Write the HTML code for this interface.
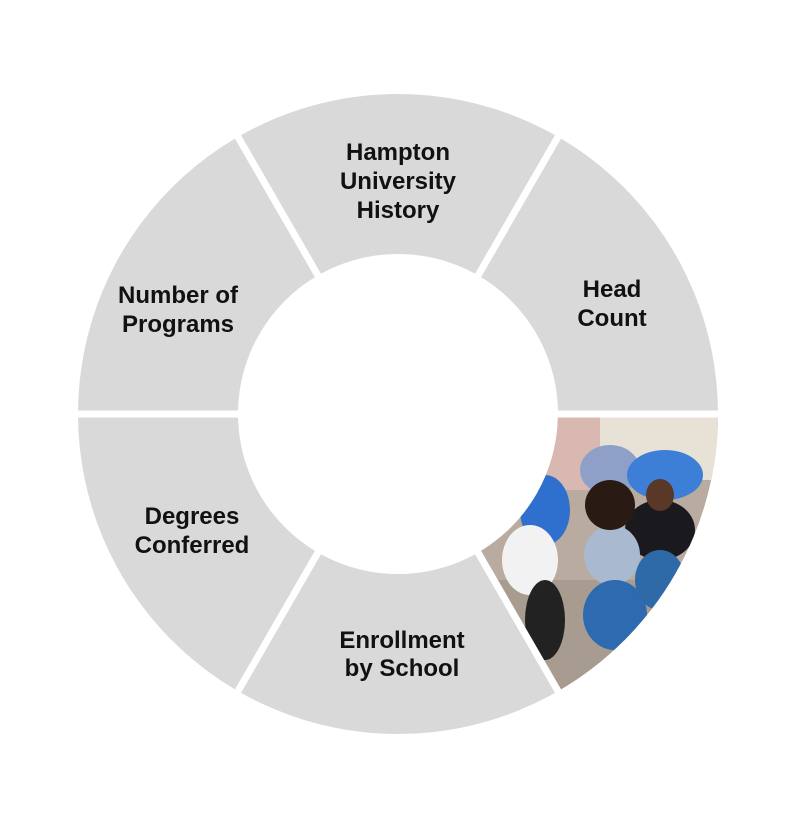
<!DOCTYPE html>
<html><head><meta charset="utf-8"><style>
html,body{margin:0;padding:0;background:#fff;width:796px;height:829px;overflow:hidden}
svg{display:block}
text{font-family:"Liberation Sans",Arial,sans-serif;font-weight:bold;font-size:24px;fill:#111;text-anchor:middle}
</style></head><body>
<svg width="796" height="829" viewBox="0 0 796 829">
<defs>
<clipPath id="ph"><path d="M718,414 A320,320 0 0 1 558,691.1 L478,552.6 A160,160 0 0 0 558,414 Z"/></clipPath>
</defs>
<path d="M78,414 A320,320 0 1 1 718,414 A320,320 0 1 1 78,414 Z M238,414 A160,160 0 1 0 558,414 A160,160 0 1 0 238,414 Z" fill="#d9d9d9" fill-rule="evenodd"/>
<g clip-path="url(#ph)">
<rect x="470" y="410" width="260" height="290" fill="#b9aba0"/>
<rect x="540" y="410" width="70" height="80" fill="#d8b8b0"/>
<rect x="600" y="410" width="120" height="70" fill="#e8e2d6"/>
<rect x="470" y="580" width="260" height="120" fill="#a89c90"/>
<ellipse cx="610" cy="470" rx="30" ry="25" fill="#8fa0c8"/>
<ellipse cx="665" cy="475" rx="38" ry="25" fill="#3d7fd6"/>
<ellipse cx="545" cy="510" rx="25" ry="35" fill="#2f6fce"/>
<ellipse cx="660" cy="530" rx="35" ry="30" fill="#1a1a1e"/>
<ellipse cx="530" cy="560" rx="28" ry="35" fill="#f2f2f2"/>
<ellipse cx="612" cy="555" rx="28" ry="30" fill="#a9b9cf"/>
<ellipse cx="615" cy="615" rx="32" ry="35" fill="#2e6ab0"/>
<ellipse cx="660" cy="580" rx="25" ry="30" fill="#2f6aa8"/>
<ellipse cx="545" cy="620" rx="20" ry="40" fill="#222"/>
<ellipse cx="610" cy="505" rx="25" ry="25" fill="#2a1a14"/>
<ellipse cx="660" cy="495" rx="14" ry="16" fill="#5a3828"/>
</g>
<g stroke="#fff" stroke-width="7">
<line x1="70" y1="414" x2="240" y2="414"/>
<line x1="556" y1="414" x2="726" y2="414"/>
<line x1="234" y1="130" x2="320" y2="279"/>
<line x1="562" y1="130" x2="476" y2="279"/>
<line x1="234" y1="698" x2="320" y2="549"/>
<line x1="562" y1="698" x2="476" y2="549"/>
</g>
<text x="398" y="160">Hampton</text>
<text x="398" y="189">University</text>
<text x="398" y="218">History</text>
<text x="612" y="297">Head</text>
<text x="612" y="326">Count</text>
<text x="178" y="303">Number of</text>
<text x="178" y="332">Programs</text>
<text x="192" y="524">Degrees</text>
<text x="192" y="553">Conferred</text>
<text x="402" y="648">Enrollment</text>
<text x="402" y="676">by School</text>
</svg>
</body></html>
